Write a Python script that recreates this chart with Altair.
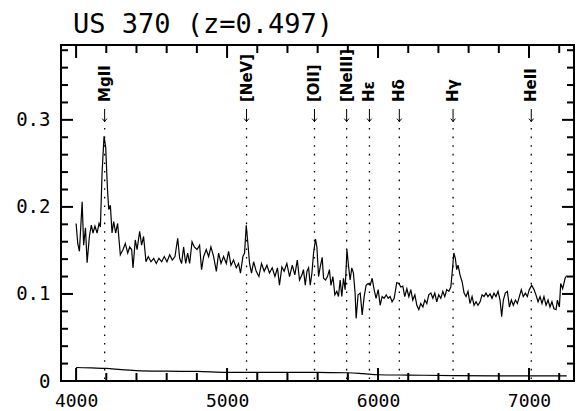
import altair as alt
import pandas as pd

TITLE = "US 370 (z=0.497)"

wave = [4000, 4011, 4022, 4040, 4050, 4062, 4073, 4088, 4101, 4112, 4125, 4139, 4152, 4161, 4172,
        4185, 4196, 4207, 4216, 4227, 4238, 4249, 4262, 4275, 4293, 4311, 4326, 4342, 4355, 4368,
        4377, 4392, 4404, 4421, 4434, 4447, 4463, 4478, 4496, 4514, 4531, 4549, 4567, 4584, 4602,
        4620, 4637, 4655, 4673, 4686, 4699, 4712, 4726, 4739, 4752, 4768, 4783, 4801, 4818, 4831,
        4845, 4862, 4878, 4893, 4911, 4929, 4944, 4960, 4977, 4995, 5010, 5026, 5043, 5061, 5076,
        5089, 5105, 5116, 5127, 5138, 5149, 5162, 5176, 5193, 5211, 5228, 5246, 5264, 5281, 5299,
        5317, 5334, 5347, 5363, 5378, 5396, 5414, 5432, 5449, 5465, 5480,
        5496, 5506, 5518, 5529, 5540, 5551, 5562, 5573, 5586, 5595, 5606, 5617, 5630, 5639, 5652,
        5665, 5678, 5688, 5701, 5714, 5727, 5738, 5749, 5760, 5771, 5782, 5794, 5804, 5815, 5826,
        5837, 5848, 5855, 5868, 5882, 5895, 5908, 5921, 5934, 5948, 5961, 5974, 5987, 6001, 6014,
        6027, 6040, 6054, 6067, 6080, 6093, 6107, 6124, 6138, 6151, 6164, 6177, 6191, 6204, 6217,
        6230, 6244, 6257, 6270, 6283, 6297, 6310, 6323, 6336, 6350, 6363, 6376, 6389, 6402, 6416,
        6429, 6442, 6455, 6469, 6482, 6493, 6502, 6512, 6521, 6530, 6543, 6557, 6570, 6583, 6596,
        6609, 6623, 6636, 6649, 6662, 6676, 6689, 6702, 6715, 6728, 6742, 6755, 6768, 6781, 6795,
        6808, 6819, 6830, 6843, 6857, 6870, 6883, 6896, 6910, 6923, 6936, 6949, 6962, 6976, 6989,
        7002, 7018, 7033, 7046, 7060, 7073, 7086, 7099, 7113, 7126, 7139, 7152, 7165, 7179, 7188,
        7201, 7210, 7223, 7239, 7250]

flux = [0.181, 0.158, 0.149, 0.206, 0.156, 0.176, 0.136, 0.166, 0.179, 0.170, 0.178, 0.170, 0.181, 0.177, 0.239,
        0.281, 0.269, 0.223, 0.197, 0.202, 0.170, 0.183, 0.170, 0.181, 0.145, 0.151, 0.158, 0.147, 0.154, 0.151,
        0.130, 0.162, 0.151, 0.172, 0.156, 0.166, 0.137, 0.143, 0.137, 0.141, 0.135, 0.141, 0.137, 0.143, 0.137,
        0.145, 0.139, 0.143, 0.164, 0.141, 0.135, 0.154, 0.135, 0.147, 0.135, 0.160, 0.154, 0.151, 0.156, 0.128,
        0.143, 0.151, 0.143, 0.154, 0.143, 0.126, 0.147, 0.135, 0.143, 0.135, 0.149, 0.133, 0.139, 0.130, 0.135,
        0.124, 0.143, 0.147, 0.179, 0.158, 0.135, 0.124, 0.137, 0.126, 0.120, 0.135, 0.126, 0.133, 0.124, 0.130,
        0.120, 0.130, 0.110, 0.131, 0.126, 0.135, 0.120, 0.133, 0.122, 0.139, 0.116,
        0.122, 0.128, 0.110, 0.126, 0.130, 0.110, 0.124, 0.147, 0.163, 0.154, 0.120, 0.131, 0.142, 0.118, 0.116,
        0.120, 0.128, 0.110, 0.120, 0.099, 0.103, 0.097, 0.116, 0.097, 0.118, 0.105, 0.151, 0.133, 0.116, 0.130,
        0.124, 0.101, 0.072, 0.099, 0.101, 0.076, 0.097, 0.110, 0.112, 0.110, 0.118, 0.105, 0.095, 0.105, 0.087,
        0.097, 0.095, 0.099, 0.095, 0.097, 0.091, 0.095, 0.113, 0.112, 0.108, 0.109, 0.097, 0.106, 0.097, 0.105,
        0.093, 0.099, 0.087, 0.082, 0.089, 0.085, 0.093, 0.089, 0.099, 0.101, 0.095, 0.101, 0.091, 0.099, 0.095,
        0.103, 0.097, 0.105, 0.103, 0.108, 0.128, 0.147, 0.141, 0.128, 0.133, 0.122, 0.114, 0.101, 0.097, 0.103,
        0.089, 0.097, 0.087, 0.091, 0.087, 0.091, 0.099, 0.097, 0.101, 0.097, 0.100, 0.095, 0.101, 0.097, 0.103,
        0.093, 0.074, 0.093, 0.101, 0.103, 0.085, 0.093, 0.087, 0.093, 0.089, 0.097, 0.105, 0.097, 0.101, 0.097,
        0.105, 0.110, 0.105, 0.099, 0.091, 0.097, 0.089, 0.097, 0.087, 0.093, 0.085, 0.091, 0.083, 0.082, 0.093,
        0.085, 0.112, 0.106, 0.118, 0.121]

noise_wave = [4000, 4100, 4200, 4300, 4400, 4600, 4800, 5000, 5200, 5400, 5600, 5800, 5900, 6000, 6200, 6500, 6800, 7000, 7250]
noise_flux = [0.0155, 0.0150, 0.0145, 0.0130, 0.0120, 0.0113, 0.0110, 0.0100, 0.0098, 0.0100, 0.0098, 0.0095, 0.0085, 0.0072, 0.0068, 0.0062, 0.0060, 0.0060, 0.0058]

line_names = ["MgII", "[NeV]", "[OII]", "[NeIII]", "Hε", "Hδ", "Hγ", "HeII"]
line_waves = [4189, 5129, 5579, 5792, 5943, 6141, 6497, 7015]

x_major = [4000, 5000, 6000, 7000]
x_minor = [4200, 4400, 4600, 4800, 5200, 5400, 5600, 5800, 6200, 6400, 6600, 6800, 7200]
y_major = [0, 0.1, 0.2, 0.3]
y_minor = [0.02, 0.04, 0.06, 0.08, 0.12, 0.14, 0.16, 0.18, 0.22, 0.24, 0.26, 0.28, 0.32, 0.34, 0.36, 0.38]

W, H = 513, 336
xs = alt.Scale(domain=[3900, 7298], nice=False, zero=False)
ys = alt.Scale(domain=[0, 0.386], nice=False, zero=False)
MONO = "DejaVu Sans Mono"

xa = alt.Axis(values=x_major, ticks=False, domain=False, grid=False, labelFont=MONO,
              labelFontSize=18, labelColor="black", labelPadding=25, labelBaseline="alphabetic",
              format="d", labelFlush=False, title=None)
ya = alt.Axis(values=y_major, ticks=False, domain=False, grid=False, labelFont=MONO,
              labelFontSize=19, labelColor="black", labelPadding=11,
              labelExpr="datum.value == 0 ? '0' : format(datum.value, '.1f')",
              labelFlush=False, title=None)

spec_df = pd.DataFrame({"w": wave, "f": flux})
noise_df = pd.DataFrame({"w": noise_wave, "f": noise_flux})
lines_df = pd.DataFrame({"w": line_waves, "name": line_names})

X = alt.X("w:Q", scale=xs, axis=xa)
Y = alt.Y("f:Q", scale=ys, axis=ya)

spectrum = alt.Chart(spec_df).mark_line(color="black", strokeWidth=1.2).encode(x=X, y=Y)

noise = alt.Chart(noise_df).mark_line(color="black", strokeWidth=1.2, interpolate="monotone").encode(x=X, y=Y)

dotted = alt.Chart(lines_df).mark_rule(color="black", strokeWidth=1.3, strokeDash=[1.6, 7]).encode(
    x=X, y=alt.value(83), y2=alt.value(H))

labels = alt.Chart(lines_df).mark_text(angle=270, align="left", baseline="middle", font="DejaVu Sans",
                                       fontWeight="bold", fontSize=15, color="black").encode(
    x=X, y=alt.value(57), text="name:N")

arrow_stem = alt.Chart(lines_df).mark_rule(color="black", strokeWidth=1).encode(
    x=X, y=alt.value(64), y2=alt.value(77))

arrow_head = alt.Chart(lines_df).mark_point(
    shape="M -1 -0.8 L 0 0.4 L 1 -0.8", filled=False, color="black", strokeWidth=1, size=22, opacity=1
).encode(x=X, y=alt.value(75.5))

title = alt.Chart(pd.DataFrame({"t": [TITLE]})).mark_text(
    align="left", baseline="alphabetic", font=MONO, fontSize=27, color="black").encode(
    x=alt.value(12), y=alt.value(-12), text="t:N")

def xticks(vals, length):
    d = pd.DataFrame({"w": vals})
    bot = alt.Chart(d).mark_rule(color="black", strokeWidth=2).encode(
        x=X, y=alt.value(H), y2=alt.value(H - length))
    top = alt.Chart(d).mark_rule(color="black", strokeWidth=2).encode(
        x=X, y=alt.value(0), y2=alt.value(length))
    return [bot, top]

def yticks(vals, length):
    d = pd.DataFrame({"f": vals})
    left = alt.Chart(d).mark_rule(color="black", strokeWidth=2).encode(
        y=Y, x=alt.value(0), x2=alt.value(length))
    right = alt.Chart(d).mark_rule(color="black", strokeWidth=2).encode(
        y=Y, x=alt.value(W), x2=alt.value(W - length))
    return [left, right]

layers = [spectrum, noise, dotted, labels, arrow_stem, arrow_head, title]
layers += xticks(x_major, 13) + xticks(x_minor, 8) + yticks(y_major, 12) + yticks(y_minor, 7)

chart = alt.layer(*layers).properties(
    width=W, height=H,
    autosize=alt.AutoSizeParams(type="none"),
    padding={"left": 53, "top": 37, "right": 1, "bottom": 30},
    background="white",
).configure_view(stroke="black", strokeWidth=2)

chart.save("out.html", embed_options={"renderer": "svg", "actions": False})
